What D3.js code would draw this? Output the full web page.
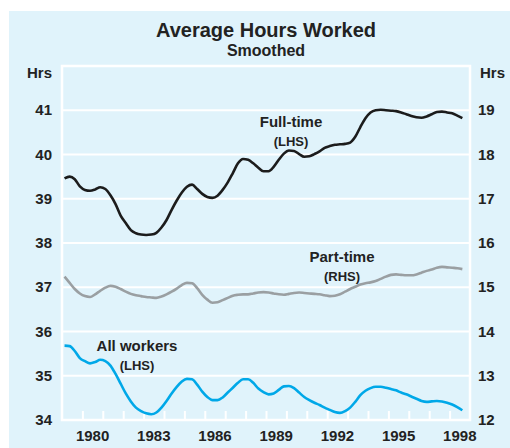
<!DOCTYPE html>
<meta charset="utf-8">
<style>
body { margin: 0; background: #fff; }
text { font-family: "Liberation Sans", Arial, sans-serif; font-weight: bold; fill: #222; }
.grid line { stroke: #fff; stroke-width: 2; }
.frame { fill: none; stroke: #fff; stroke-width: 2.5; }
.series { fill: none; stroke-width: 2.6; stroke-linejoin: round; }
</style>
<svg width="510" height="448"></svg>
<script src="https://cdnjs.cloudflare.com/ajax/libs/d3/7.8.5/d3.min.js"></script>
<script>

// quarterly observations, 1979Q1 .. 1998Q3
var quarters = [
  "1979Q1","1979Q2","1979Q3","1979Q4","1980Q1","1980Q2","1980Q3","1980Q4",
  "1981Q1","1981Q2","1981Q3","1981Q4","1982Q1","1982Q2","1982Q3","1982Q4",
  "1983Q1","1983Q2","1983Q3","1983Q4","1984Q1","1984Q2","1984Q3","1984Q4",
  "1985Q1","1985Q2","1985Q3","1985Q4","1986Q1","1986Q2","1986Q3","1986Q4",
  "1987Q1","1987Q2","1987Q3","1987Q4","1988Q1","1988Q2","1988Q3","1988Q4",
  "1989Q1","1989Q2","1989Q3","1989Q4","1990Q1","1990Q2","1990Q3","1990Q4",
  "1991Q1","1991Q2","1991Q3","1991Q4","1992Q1","1992Q2","1992Q3","1992Q4",
  "1993Q1","1993Q2","1993Q3","1993Q4","1994Q1","1994Q2","1994Q3","1994Q4",
  "1995Q1","1995Q2","1995Q3","1995Q4","1996Q1","1996Q2","1996Q3","1996Q4",
  "1997Q1","1997Q2","1997Q3","1997Q4","1998Q1","1998Q2","1998Q3"
];

// Full-time, hours (LHS)
var fullTime = [
  39.46,39.50,39.44,39.28, 39.20,39.18,39.21,39.26,
  39.22,39.08,38.88,38.62, 38.45,38.29,38.22,38.19,
  38.18,38.19,38.23,38.35, 38.52,38.75,38.96,39.14,
  39.27,39.32,39.22,39.11, 39.04,39.02,39.07,39.20,
  39.37,39.58,39.80,39.90, 39.88,39.80,39.70,39.62,
  39.62,39.72,39.88,40.02, 40.09,40.08,40.01,39.95,
  39.96,40.01,40.07,40.15, 40.19,40.22,40.23,40.24,
  40.27,40.40,40.62,40.82, 40.95,41.00,41.01,41.00,
  40.99,40.98,40.95,40.91, 40.87,40.84,40.83,40.86,
  40.91,40.96,40.97,40.95, 40.93,40.88,40.82
];

// Part-time, hours (RHS)
var partTime = [
  15.24,15.10,14.96,14.86, 14.80,14.78,14.84,14.92,
  14.99,15.03,15.01,14.96, 14.90,14.85,14.82,14.80,
  14.78,14.77,14.76,14.79, 14.84,14.90,14.97,15.05,
  15.10,15.09,14.98,14.83, 14.72,14.65,14.66,14.71,
  14.76,14.81,14.83,14.84, 14.84,14.86,14.88,14.89,
  14.88,14.86,14.84,14.83, 14.85,14.87,14.88,14.87,
  14.86,14.85,14.84,14.82, 14.80,14.81,14.84,14.90,
  14.96,15.01,15.06,15.09, 15.11,15.14,15.19,15.24,
  15.28,15.29,15.28,15.27, 15.27,15.29,15.33,15.37,
  15.40,15.44,15.46,15.45, 15.44,15.43,15.41
];

// All workers, hours (LHS)
var allWorkers = [
  35.68,35.67,35.56,35.40, 35.33,35.28,35.31,35.36,
  35.33,35.23,35.04,34.82, 34.60,34.42,34.28,34.20,
  34.15,34.13,34.17,34.28, 34.43,34.60,34.75,34.87,
  34.93,34.92,34.80,34.64, 34.52,34.45,34.45,34.51,
  34.62,34.73,34.84,34.92, 34.92,34.84,34.71,34.63,
  34.58,34.60,34.68,34.76, 34.77,34.72,34.62,34.52,
  34.45,34.39,34.34,34.28, 34.23,34.18,34.16,34.20,
  34.28,34.41,34.56,34.66, 34.72,34.75,34.75,34.73,
  34.70,34.67,34.62,34.58, 34.53,34.48,34.43,34.41,
  34.42,34.43,34.42,34.39, 34.35,34.29,34.22
];

var leftTicks = [34, 35, 36, 37, 38, 39, 40, 41];
var rightTicks = [12, 13, 14, 15, 16, 17, 18, 19];
var yearLabels = [1980, 1983, 1986, 1989, 1992, 1995, 1998];

var svg = d3.select("svg"),
  plot = {left: 62, right: 470, top: 66, bottom: 420};

var x = d3.scaleLinear().domain([1979, 1999]).range([plot.left, plot.right]),
  yL = d3.scaleLinear().domain([34, 42]).range([plot.bottom, plot.top]),
  yR = d3.scaleLinear().domain([12, 20]).range([plot.bottom, plot.top]);

function qPos(q) {
  var yr = +q.slice(0, 4), n = +q.slice(5);
  return yr + (n - 0.5) / 4;
}

// panel background
svg.append("rect")
  .attr("x", 9).attr("y", 11)
  .attr("width", 501).attr("height", 437)
  .attr("fill", "#e0f3fb");

// title
svg.append("text")
  .attr("x", 266).attr("y", 37)
  .attr("text-anchor", "middle")
  .style("font-size", "20px")
  .text("Average Hours Worked");
svg.append("text")
  .attr("x", 266).attr("y", 56)
  .attr("text-anchor", "middle")
  .style("font-size", "16px")
  .text("Smoothed");

// horizontal grid
svg.append("g").attr("class", "grid")
  .selectAll("line")
  .data(leftTicks.slice(1))
  .enter().append("line")
    .attr("x1", plot.left).attr("x2", plot.right)
    .attr("y1", function(d) { return yL(d); })
    .attr("y2", function(d) { return yL(d); });

svg.append("rect").attr("class", "frame")
  .attr("x", plot.left).attr("y", plot.top)
  .attr("width", plot.right - plot.left)
  .attr("height", plot.bottom - plot.top);

// year ticks along the bottom, pointing up
var xAxis = d3.axisBottom(x)
  .tickValues(d3.range(1980, 1999))
  .tickSize(-9)
  .tickFormat("");
var gx = svg.append("g")
  .attr("transform", "translate(0," + plot.bottom + ")")
  .call(xAxis);
gx.select(".domain").remove();
gx.selectAll(".tick line").attr("stroke", "#fff").attr("stroke-width", 2);

svg.append("g")
  .selectAll("text")
  .data(yearLabels)
  .enter().append("text")
    .attr("x", function(d) { return x(d + 0.5); })
    .attr("y", 441)
    .attr("text-anchor", "middle")
    .style("font-size", "15px")
    .text(function(d) { return d; });

// left and right value labels
svg.append("g")
  .selectAll("text")
  .data(leftTicks)
  .enter().append("text")
    .attr("x", 52)
    .attr("y", function(d) { return yL(d) + 5; })
    .attr("text-anchor", "end")
    .style("font-size", "15px")
    .text(function(d) { return d; });

svg.append("g")
  .selectAll("text")
  .data(rightTicks)
  .enter().append("text")
    .attr("x", 478)
    .attr("y", function(d) { return yR(d) + 5; })
    .style("font-size", "15px")
    .text(function(d) { return d; });

svg.append("text").attr("x", 52).attr("y", 78)
  .attr("text-anchor", "end").style("font-size", "15px").text("Hrs");
svg.append("text").attr("x", 480).attr("y", 78)
  .style("font-size", "15px").text("Hrs");

// series
var series = [
  {values: partTime, y: yR, color: "#9a9fa2"},
  {values: allWorkers, y: yL, color: "#00a8e8"},
  {values: fullTime, y: yL, color: "#1c1c1c"}
];

series.forEach(function(s) {
  var line = d3.line()
    .curve(d3.curveMonotoneX)
    .x(function(d, i) { return x(qPos(quarters[i])); })
    .y(function(d) { return s.y(d); });
  svg.append("path")
    .attr("class", "series")
    .attr("stroke", s.color)
    .attr("d", line(s.values));
});

// series labels
var labels = [
  {name: "Full-time", side: "(LHS)", x: 291, y: 127},
  {name: "Part-time", side: "(RHS)", x: 342, y: 262},
  {name: "All workers", side: "(LHS)", x: 137, y: 351}
];
labels.forEach(function(l) {
  svg.append("text")
    .attr("x", l.x).attr("y", l.y)
    .attr("text-anchor", "middle")
    .style("font-size", "15px")
    .text(l.name);
  svg.append("text")
    .attr("x", l.x).attr("y", l.y + 19)
    .attr("text-anchor", "middle")
    .style("font-size", "13px")
    .text(l.side);
});
</script>
